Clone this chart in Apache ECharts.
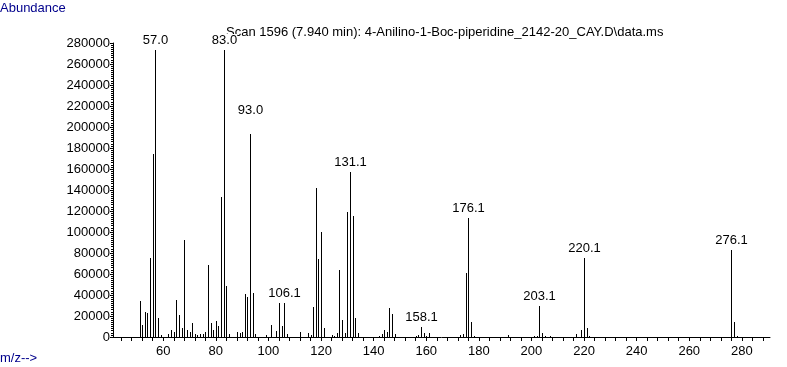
<!DOCTYPE html>
<html><head><meta charset="utf-8">
<script src="https://cdn.jsdelivr.net/npm/echarts@6/dist/echarts.min.js"></script>
<style>html,body{margin:0;padding:0;background:#fff}#c{width:787px;height:367px}</style>
</head><body><div id="c"></div>
<script>
const titleText = 'Scan 1596 (7.940 min): 4-Anilino-1-Boc-piperidine_2142-20_CAY.D\\data.ms';
const mz = [51,52,53,54,55,56,57,58,59,62,63,64,65,66,67,68,69,70,71,72,73,74,75,76,77,78,79,80,81,82,83,84,85,88,89,90,91,92,93,94,95,99,101,103,104,105,106,107,112,115,116,117,118,119,120,121,124,125,126,127,128,129,130,131,132,133,134,142,143,144,145,146,147,148,156,157,158,159,160,161,173,174,175,176,177,178,191,201,202,203,204,205,207,217,219,220,221,222,276,277,278];
const abundance = [34000,11000,23500,22500,75000,174500,273500,17800,1700,2700,7000,5000,35000,21300,8300,92000,7000,5000,13000,3200,2000,3200,3000,4500,68300,13000,7000,15000,10300,133000,273500,48300,3000,5000,3500,4500,41300,37800,193500,42300,3000,1500,11100,5400,32400,10500,32400,2600,4500,3800,1900,28600,141900,74300,100000,8300,1900,1000,3800,63800,16200,3800,119000,157100,115200,18100,3800,1000,2900,6700,4800,27600,21900,2900,1000,1900,9500,3800,1000,3800,1900,2900,60900,113700,14300,1000,1900,1000,1000,29500,3800,1000,1000,2900,6700,75500,8600,1000,82800,14300,1000];
const peakMz = [57,83,93,106,131,158,176,203,220,276];
const peakLabels = ['57.0','83.0','93.0','106.1','131.1','158.1','176.1','203.1','220.1','276.1'];
const xTickValues = [44,48,52,56,60,64,68,72,76,80,84,88,92,96,100,104,108,112,116,120,124,128,132,136,140,144,148,152,156,160,164,168,172,176,180,184,188,192,196,200,204,208,212,216,220,224,228,232,236,240,244,248,252,256,260,264,268,272,276,280,284,288];
const xTickLabels = [60,80,100,120,140,160,180,200,220,240,260,280];
const yTickLabels = [0,20000,40000,60000,80000,100000,120000,140000,160000,180000,200000,220000,240000,260000,280000];

const FONT = 'Liberation Sans, Arial, sans-serif';
const chart = echarts.init(document.getElementById('c'), null, {renderer:'canvas'});
const data = mz.map((m, i) => [m, abundance[i]]);

function renderItem(params, api) {
  const m = api.value(0);
  const top = api.coord([m, api.value(1)]);
  const base = api.coord([m, 0]);
  const x = Math.round(top[0]);
  const y0 = Math.round(top[1]);
  const y1 = Math.round(base[1]);
  const k = peakMz.indexOf(m);
  const el = {
    type: 'rect',
    shape: {x: x, y: y0, width: 1, height: Math.max(1, y1 - y0)},
    style: {fill: '#000'}
  };
  if (k >= 0) {
    el.textContent = {
      style: {text: peakLabels[k], fill: '#000', font: '13px ' + FONT, backgroundColor: '#fff'}
    };
    el.textConfig = {position: 'top', distance: m === 93 ? 17 : 3};
  }
  return el;
}

chart.setOption({
  animation: false,
  backgroundColor: '#fff',
  title: {
    text: titleText, left: 221, top: 21,
    textStyle: {fontSize: 13, fontWeight: 'normal', color: '#000', fontFamily: FONT}
  },
  graphic: [
    {type: 'text', left: 0, top: 2, style: {text: 'Abundance', fill: '#00008c', font: '13px ' + FONT}},
    {type: 'text', left: 0, top: 352, style: {text: 'm/z-->', fill: '#00008c', font: '13px ' + FONT}}
  ],
  grid: {left: 113, right: 17, top: 43, bottom: 30},
  xAxis: {
    type: 'value', min: 40.9, max: 290.7,
    axisLine: {show: true, lineStyle: {color: '#000', width: 1}},
    axisTick: {show: true, length: 4, customValues: xTickValues, lineStyle: {color: '#000'}},
    axisLabel: {customValues: xTickLabels, color: '#000', fontSize: 13, fontFamily: FONT, margin: 8},
    splitLine: {show: false}
  },
  yAxis: {
    type: 'value', min: 0, max: 280000, interval: 20000,
    axisLine: {show: true, lineStyle: {color: '#000', width: 1}},
    axisTick: {show: true, length: 3, lineStyle: {color: '#000'}},
    minorTick: {show: true, splitNumber: 10, length: 2, lineStyle: {color: '#000'}},
    axisLabel: {customValues: yTickLabels, formatter: v => String(v), color: '#000', fontSize: 13, fontFamily: FONT, margin: 3, padding: [6, 0, 0, 0]},
    splitLine: {show: false}
  },
  series: [{
    type: 'custom',
    data: data,
    renderItem: renderItem,
    encode: {x: 0, y: 1},
    z: 7,
    clip: false
  }]
});
</script></body></html>
